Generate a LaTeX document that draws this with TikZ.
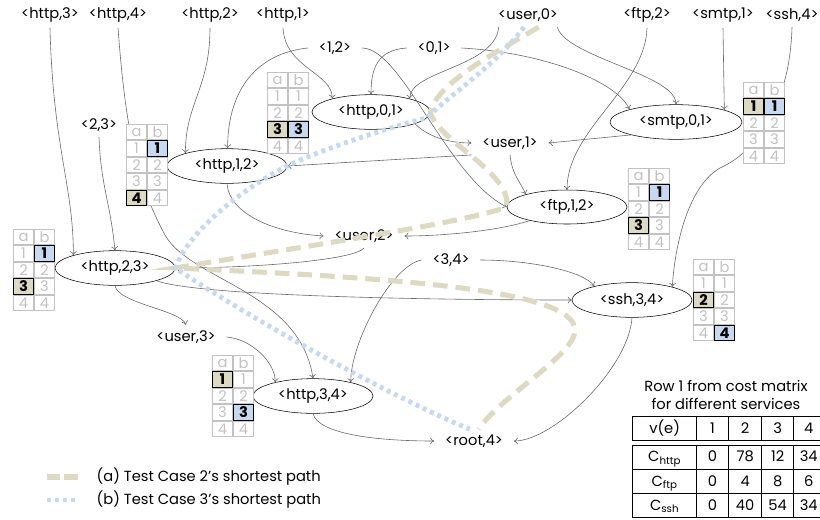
\documentclass[tikz,border=0pt]{standalone}
\usepackage{fontspec}
\setmainfont{Poppins}
\usepackage{array}
\usetikzlibrary{calc,shapes.geometric,arrows.meta}
\definecolor{tancol}{HTML}{DDD9C3}
\definecolor{bluecol}{HTML}{C6D9F1}
\definecolor{linegray}{HTML}{6A6A6A}
\definecolor{cellgray}{HTML}{C2C2C2}
\tikzset{state/.style={ellipse,draw,thin,minimum width=90pt,minimum height=26pt,inner sep=0pt}}
\tikzset{lbl/.style={inner xsep=8pt,inner ysep=4pt}}
\tikzset{edge/.style={draw=linegray,line width=0.45pt,-{To[length=3pt,width=5pt]}}}
\tikzset{cell/.style={draw=cellgray,line width=0.8pt,text=cellgray,minimum width=15.2pt,minimum height=11.6pt,inner sep=0pt,fill=white}}
\tikzset{tan cell/.style={cell,fill=tancol,draw=black,text=black,font=\fontsize{11}{13}\selectfont\bfseries}}
\tikzset{blue cell/.style={cell,fill=bluecol,draw=black,text=black,font=\fontsize{11}{13}\selectfont\bfseries}}
\tikzset{path a/.style={draw=tancol,line width=3.8pt,dash pattern=on 11pt off 6pt}}
\tikzset{path b/.style={draw=bluecol,line width=3.6pt,dash pattern=on 3pt off 3pt}}

% #1 name, #2 x, #3 y, #4 row marked in a, #5 row marked in b
\newcommand{\abtable}[5]{%
  \node (#1-a0) [cell] at (#2+10.5,#3+8) {a};
  \node (#1-b0) [cell] at (#2+31.5,#3+8) {b};
  \foreach \r in {1,...,4}{
    \tikzset{cell a/.style={cell},cell b/.style={cell}}
    \ifnum\r=#4 \tikzset{cell a/.style={tan cell}}\fi
    \ifnum\r=#5 \tikzset{cell b/.style={blue cell}}\fi
    \node (#1-a\r) [cell a] at (#2+10.5,{#3+8+16.5*\r}) {\r};
    \node (#1-b\r) [cell b] at (#2+31.5,{#3+8+16.5*\r}) {\r};
  }
}

\begin{document}
\begin{tikzpicture}[x=0.75pt,y=-0.75pt,font=\fontsize{11}{13.5}\selectfont]
	\useasboundingbox (0,0) rectangle (820,519);

	\node (lh3)	[lbl] at	(50,15)		{<http,3>};
	\node (lh4)	[lbl] at	(118,15)	{<http,4>};
	\node (lh2)	[lbl] at	(210,15)	{<http,2>};
	\node (lh1)	[lbl] at	(283,15)	{<http,1>};
	\node (lu0)	[lbl] at	(528,15)	{<user,0>};
	\node (lf2)	[lbl] at	(647,15)	{<ftp,2>};
	\node (ls1)	[lbl] at	(723,15)	{<smtp,1>};
	\node (lss4)	[lbl] at	(792,15)	{<ssh,4>};
	\node (e12)	[lbl] at	(335,48)	{<1,2>};
	\node (e01)	[lbl] at	(434,48)	{<0,1>};
	\node (e23)	[lbl] at	(99,125)	{<2,3>};
	\node (lu1)	[lbl] at	(510,143)	{<user,1>};
	\node (lu2)	[lbl] at	(364,236)	{<user,2>};
	\node (e34)	[lbl] at	(451,260)	{<3,4>};
	\node (lu3)	[lbl] at	(186,337)	{<user,3>};
	\node (lr4)	[lbl] at	(474,441)	{<root,4>};

	\node (h01)	[state,minimum width=88.5pt] at	(371,112)	{<http,0,1>};
	\node (sm01)	[state,minimum width=99pt] at	(676,122)	{<smtp,0,1>};
	\node (h12)	[state] at	(227,166)	{<http,1,2>};
	\node (f12)	[state,minimum height=25.5pt] at	(567,207)	{<ftp,1,2>};
	\node (h23)	[state] at	(115,268)	{<http,2,3>};
	\node (ss34)	[state] at	(632,300)	{<ssh,3,4>};
	\node (h34)	[state] at	(313,396)	{<http,3,4>};

	\draw [edge] (lh3.south) .. controls +(3,120) and +(0,-70) .. (h23.163);
	\draw [edge] (lh4.south) .. controls +(7,93) and +(-30,-55) .. (165,235) .. controls +(25,45) and +(-13,-87) .. (h34.north);
	\draw [edge] (lh2.south) .. controls +(0,60) and +(0,-50) .. (h12.163);
	\draw [edge] (lh1.south) .. controls +(2,40) and +(0,-26) .. (h01.161);
	\draw [edge] (e12.west) .. controls +(-50,5) and +(0,-60) .. (h12.88);
	\draw [edge] (e12.east) .. controls +(40,0) and +(-60,-30) .. (f12.west);
	\draw [edge] (e01.west) .. controls +(-30,2) and +(0,-25) .. (h01.north);
	\draw [edge] (e01.east) .. controls +(90,5) and +(-10,-25) .. (sm01.165);
	\draw [edge] ([xshift=-22pt]lu0.south) .. controls +(-3,40) and +(0,-28) .. (h01.19);
	\draw [edge] ([xshift=22pt]lu0.south) .. controls +(8,30) and +(0,-30) .. (sm01.north);
	\draw [edge] (lf2.south) .. controls +(-2,60) and +(0,-60) .. (f12.north);
	\draw [edge] (ls1.south) -- (sm01.14);
	\draw [edge] (lss4.south) .. controls +(-2,73) and +(40,-18) .. (720,168) .. controls +(-30,17) and +(3,-47) .. (ss34.18);
	\draw [edge] (h01.345) .. controls +(12,12) and +(-25,0) .. (lu1.west);
	\draw [edge] (sm01.196) -- (lu1.east);
	\draw [edge] (lu1.south west) -- (h12.east);
	\draw [edge] (lu1.south) .. controls +(2,20) and +(-5,-12) .. (f12.163);
	\draw [edge] (h12.south) .. controls +(2,30) and +(-50,-3) .. (lu2.west);
	\draw [edge] (f12.200) .. controls +(-30,10) and +(40,0) .. (lu2.east);
	\draw [edge] (lu2.south) .. controls +(-10,12) and +(80,0) .. (h23.east);
	\draw [edge] (h23.343) .. controls +(40,15) and +(-150,0) .. (ss34.west);
	\draw [edge] (h23.south) .. controls +(3,18) and +(-5,-15) .. (lu3.north);
	\draw [edge] (lu3.east) .. controls +(25,2) and +(0,-20) .. (h34.160);
	\draw [edge] (e34.west) .. controls +(-30,5) and +(0,-40) .. (h34.20);
	\draw [edge] (e34.east) .. controls +(50,0) and +(-10,-15) .. (ss34.160);
	\draw [edge] (h34.south) .. controls +(5,20) and +(-60,0) .. (lr4.west);
	\draw [edge] (ss34.south) .. controls +(-3,50) and +(40,0) .. (lr4.east);
	\draw [edge] (e23.south) .. controls +(2,50) and +(-5,-50) .. (h23.north);

	\abtable{t01}{267}{72}{3}{3}
	\abtable{t12}{126}{124}{4}{1}
	\abtable{t23}{13}{229}{3}{1}
	\abtable{tsm}{743}{82}{1}{1}
	\abtable{tftp}{628}{168}{3}{1}
	\abtable{tssh}{693}{259}{2}{4}
	\abtable{t34}{212}{355}{1}{3}

	\draw [path a] ([xshift=8pt]lu0.south) .. controls +(-45,27) and +(8,-30) .. (h01.east)
		.. controls +(8,30) and +(5,-35) .. (f12.west)
		.. controls +(-40,15) and +(150,-25) .. (h23.east)
		.. controls +(225,10) and +(0,-40) .. (575,330)
		.. controls +(0,25) and +(25,-35) .. (lr4.70);
	\draw [path b] ([xshift=-3pt]lu0.south) .. controls +(-30,40) and +(25,-25) .. (h01.354)
		.. controls +(-40,10) and +(30,-15) .. (h12.east)
		.. controls +(-40,20) and +(15,-40) .. (h23.east)
		.. controls +(85,57) and +(-69,-28) .. (lr4.110);

	\coordinate (lega) at (47,477);
	\coordinate (legb) at (47,500);
	\draw [path a,dash pattern=on 10pt off 3pt] (lega) -- ++(31,0);
	\draw [path b] (legb) -- ++(31,0);
	\node (legatext) [anchor=west] at (92,477) {(a) Test Case 2's shortest path};
	\node (legbtext) [anchor=west] at (92,500) {(b) Test Case 3's shortest path};

	\node (costtitle) [align=center] at (726,395) {Row 1 from cost matrix\\for different services};
	\node (costtab) [anchor=north west,inner sep=0pt] at (632,416) {%
		\setlength{\tabcolsep}{3pt}\setlength{\arrayrulewidth}{0.8pt}\setlength{\doublerulesep}{2.5pt}%
		\renewcommand{\arraystretch}{1.28}%
		\begin{tabular}{|w{c}{41pt}|w{c}{17.25pt}|w{c}{18pt}|w{c}{17.25pt}|w{c}{15.75pt}|}
		\hline
		v(e) & 1 & 2 & 3 & 4\\ \hline\hline
		C\textsubscript{http} & 0 & 78 & 12 & 34\\ \hline
		C\textsubscript{ftp} & 0 & 4 & 8 & 6\\ \hline
		C\textsubscript{ssh} & 0 & 40 & 54 & 34\\ \hline
		\end{tabular}};
\end{tikzpicture}
\end{document}
